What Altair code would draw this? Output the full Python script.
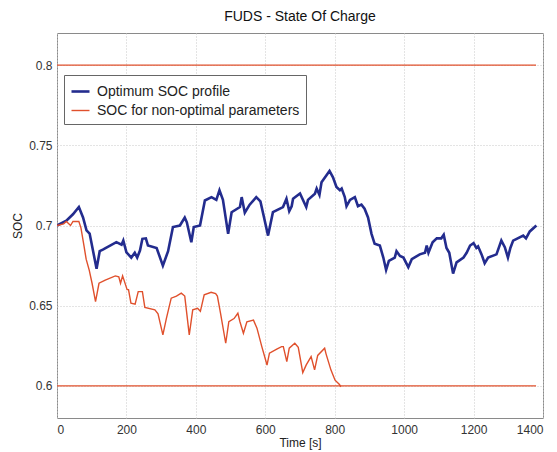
import altair as alt
import pandas as pd

# Optimum SOC profile (blue)
opt_t = [0, 27, 46, 63, 75, 85, 94, 114, 123, 132, 171, 186, 191, 200, 214, 224, 231, 239, 246, 256,
         262, 287, 305, 320, 334, 354, 368, 374, 387, 394, 412, 426, 445, 459, 468, 478, 493, 503, 527, 532,
         541, 555, 574, 586, 594, 608, 622, 651, 661, 669, 676, 680, 700, 718, 723, 743, 748, 756, 762, 785,
         795, 805, 815, 820, 829, 834, 844, 858, 867, 877, 886, 896, 906, 915, 930, 940, 948, 956, 973, 978,
         988, 998, 1012, 1022, 1045, 1060, 1065, 1070, 1082, 1094, 1107, 1114, 1122, 1130, 1141, 1151, 1171, 1180, 1190, 1200,
         1208, 1213, 1223, 1232, 1242, 1266, 1280, 1290, 1299, 1306, 1314, 1343, 1351, 1362, 1381]
opt_soc = [0.700, 0.703, 0.707, 0.7115, 0.705, 0.697, 0.695, 0.673, 0.684, 0.685, 0.6896, 0.688, 0.6906, 0.6833, 0.680, 0.683, 0.680, 0.6844, 0.6917, 0.692,
           0.6875, 0.686, 0.675, 0.684, 0.699, 0.700, 0.705, 0.702, 0.6896, 0.699, 0.700, 0.7156, 0.7177, 0.716, 0.722, 0.716, 0.6948, 0.7083, 0.7115, 0.7177,
           0.708, 0.713, 0.7177, 0.715, 0.7073, 0.6937, 0.7083, 0.7115, 0.7167, 0.709, 0.712, 0.7167, 0.720, 0.7115, 0.716, 0.7198, 0.723, 0.719, 0.727, 0.734,
           0.730, 0.724, 0.722, 0.723, 0.7177, 0.712, 0.716, 0.7177, 0.712, 0.713, 0.7105, 0.705, 0.6948, 0.6886, 0.6875, 0.680, 0.6723, 0.678, 0.680, 0.684,
           0.681, 0.680, 0.674, 0.679, 0.682, 0.683, 0.6875, 0.683, 0.6896, 0.692, 0.692, 0.6942, 0.686, 0.683, 0.670, 0.677, 0.680, 0.683, 0.6875, 0.689,
           0.686, 0.687, 0.682, 0.6765, 0.680, 0.682, 0.6906, 0.6865, 0.680, 0.686, 0.6906, 0.6937, 0.692, 0.6963, 0.700]

# SOC for non-optimal parameters (red)
non_t = [0, 19, 27, 39, 46, 63, 69, 78, 84, 93, 101, 111, 121, 139, 168, 178, 183, 189, 202, 206,
         213, 225, 234, 246, 253, 282, 291, 305, 315, 329, 344, 358, 368, 381, 391, 405, 413, 424, 444, 457,
         462, 471, 486, 495, 510, 521, 527, 537, 547, 566, 576, 590, 605, 612, 633, 647, 652, 662, 669, 685,
         695, 708, 718, 732, 742, 751, 771, 775, 789, 801, 813, 818]
non_soc = [0.700, 0.701, 0.7025, 0.700, 0.7025, 0.7025, 0.6985, 0.687, 0.679, 0.672, 0.664, 0.6526, 0.664, 0.666, 0.6686, 0.668, 0.664, 0.6686, 0.660, 0.660,
           0.6516, 0.651, 0.6588, 0.6588, 0.649, 0.6474, 0.645, 0.6318, 0.642, 0.6547, 0.656, 0.6578, 0.656, 0.6318, 0.6474, 0.6484, 0.6465, 0.6568, 0.6584, 0.6575,
           0.656, 0.6453, 0.6266, 0.640, 0.642, 0.6453, 0.640, 0.6328, 0.640, 0.641, 0.636, 0.6245, 0.613, 0.6204, 0.623, 0.6245, 0.6245, 0.6151, 0.6235, 0.6266,
           0.624, 0.6083, 0.6131, 0.6183, 0.610, 0.619, 0.6235, 0.620, 0.610, 0.6036, 0.601, 0.5995]

# SOC limits (red horizontal lines)
limit_soc = [0.8, 0.6]
limit_t_start = [0, 0]
limit_t_end = [1380, 1380]

series_names = ["Optimum SOC profile", "SOC for non-optimal parameters"]
series_colors = ["#232c8e", "#e0502c"]
x_ticks = [0, 200, 400, 600, 800, 1000, 1200, 1400]
y_ticks = [0.6, 0.65, 0.7, 0.75, 0.8]

df = pd.concat([
    pd.DataFrame({"t": opt_t, "soc": opt_soc, "series": series_names[0], "order": range(len(opt_t))}),
    pd.DataFrame({"t": non_t, "soc": non_soc, "series": series_names[1], "order": range(len(non_t))}),
])
lim = pd.DataFrame({"t0": limit_t_start, "t1": limit_t_end, "soc": limit_soc})

FONT = "Liberation Sans"
xscale = alt.Scale(domain=[0, 1400], nice=False, zero=False)
yscale = alt.Scale(domain=[0.58, 0.82], nice=False, zero=False)

lines = alt.Chart(df).mark_line(clip=True).encode(
    x=alt.X("t:Q", scale=xscale, title="Time [s]",
            axis=alt.Axis(values=x_ticks, format="d", grid=True, ticks=False, domain=False,
                          labelPadding=6, titlePadding=2)),
    y=alt.Y("soc:Q", scale=yscale, title="SOC",
            axis=alt.Axis(values=y_ticks, format="~g", grid=True, ticks=False, domain=False,
                          labelPadding=5, titlePadding=4)),
    color=alt.Color("series:N", scale=alt.Scale(domain=series_names, range=series_colors),
                    legend=alt.Legend(title=None, orient="none", legendX=7, legendY=42,
                                      symbolType="stroke", symbolSize=324, symbolStrokeWidth=2,
                                      labelFont=FONT, labelFontSize=14, labelColor="#222",
                                      labelLimit=0, labelOffset=6, rowPadding=1.5, padding=6,
                                      fillColor="white", strokeColor="#666")),
    strokeWidth=alt.StrokeWidth("series:N", scale=alt.Scale(domain=series_names, range=[2.6, 1.4]),
                                legend=None),
    order="order:Q",
)

limits = alt.Chart(lim).mark_rule(color=series_colors[1], strokeWidth=1.4).encode(
    x=alt.X("t0:Q", scale=xscale),
    x2="t1:Q",
    y=alt.Y("soc:Q", scale=yscale),
)

chart = alt.layer(limits, lines).properties(
    width=486, height=385,
    title=alt.Title("FUDS - State Of Charge", font=FONT, fontSize=14, fontWeight="normal",
                    color="#111", anchor="middle", offset=9),
    autosize=alt.AutoSizeParams(type="none"),
    padding={"left": 49, "top": 25, "right": 6, "bottom": 33},
).configure_view(
    stroke="#8a8a8a", strokeWidth=1
).configure_axis(
    labelFont=FONT, labelFontSize=12, labelColor="#333",
    titleFont=FONT, titleFontSize=12, titleColor="#222", titleFontWeight="normal",
    gridColor="#c8c8c8", gridDash=[1, 2], gridWidth=1,
)

chart.save("out.html", embed_options={"renderer": "svg", "actions": False})
